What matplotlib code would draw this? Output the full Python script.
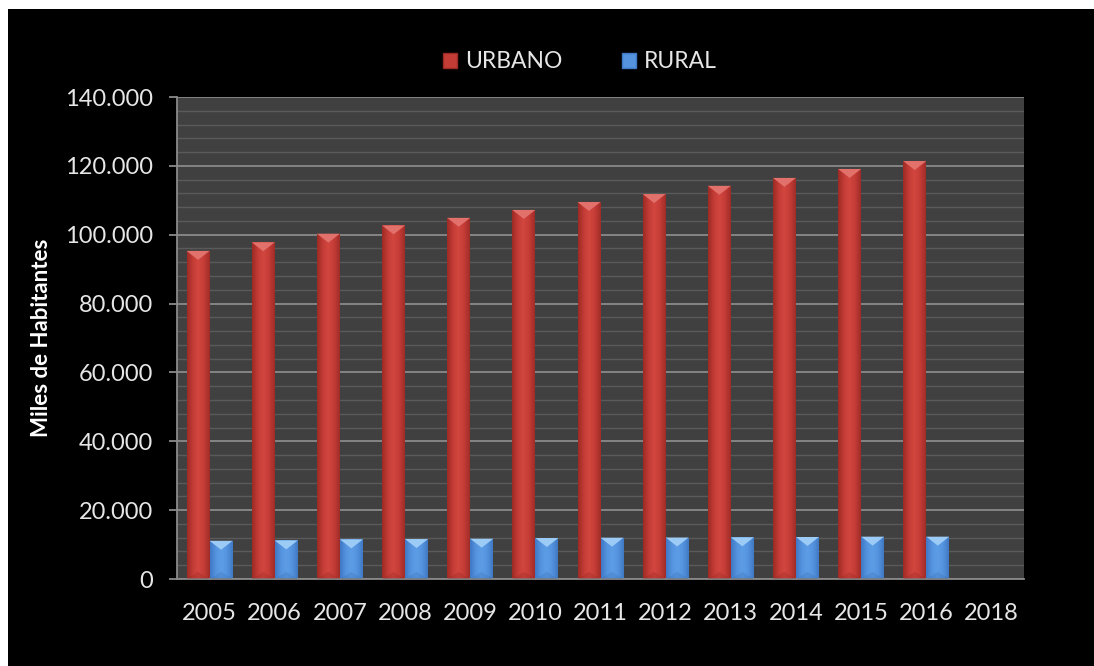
import numpy as np
import matplotlib
matplotlib.use("Agg")
import matplotlib.pyplot as plt
from matplotlib.patches import Rectangle, Polygon, Patch
from matplotlib.ticker import FuncFormatter, MultipleLocator
from matplotlib.colors import LinearSegmentedColormap

years = ["2005", "2006", "2007", "2008", "2009", "2010", "2011",
         "2012", "2013", "2014", "2015", "2016", "2018"]
urbano = [95300, 97800, 100300, 102700, 104900, 107200, 109500,
          111800, 114200, 116500, 119100, 121400, None]
rural = [11100, 11200, 11500, 11600, 11700, 11900, 12000,
         12050, 12100, 12200, 12300, 12300, None]

plt.rcParams["font.family"] = ["Lato", "DejaVu Sans"]

TXT = "#e6e6e6"
BAR_W = 0.353
BEVEL = 2600

red_cmap = LinearSegmentedColormap.from_list(
    "red", ["#9c2a25", "#c43c36", "#d2463f", "#c43c36", "#a02c27"])
blue_cmap = LinearSegmentedColormap.from_list(
    "blue", ["#3f78c4", "#5593de", "#5d9de6", "#5593de", "#4079c4"])


def draw_bar(ax, x0, h, cmap, top_color, bottom_color):
    rect = Rectangle((x0, 0), BAR_W, h, facecolor="none", edgecolor="none")
    ax.add_patch(rect)
    grad = np.linspace(0, 1, 64).reshape(1, -1)
    im = ax.imshow(grad, cmap=cmap, extent=(x0, x0 + BAR_W, 0, h),
                   aspect="auto", interpolation="bicubic", zorder=2)
    im.set_clip_path(rect)
    # top bevel
    ax.add_patch(Polygon([(x0, h), (x0 + BAR_W, h), (x0 + BAR_W / 2, h - BEVEL)],
                         closed=True, facecolor=top_color, edgecolor="none", zorder=3))
    # subtle bottom bevel
    ax.add_patch(Polygon([(x0, 0), (x0 + BAR_W, 0), (x0 + BAR_W / 2, BEVEL * 0.8)],
                         closed=True, facecolor=bottom_color, edgecolor="none",
                         alpha=0.25, zorder=3))


fig = plt.figure(figsize=(10.94, 6.66), dpi=100, facecolor="white")
bg = Rectangle((8 / 1094, 0), 1 - 8 / 1094, 1 - 9 / 666,
               transform=fig.transFigure, facecolor="black",
               edgecolor="none", zorder=-10)
fig.patches.append(bg)

ax = fig.add_axes([177 / 1094, 87 / 666, 847 / 1094, 482 / 666])
ax.set_facecolor("#404040")

for i, (u, r) in enumerate(zip(urbano, rural)):
    if u is not None:
        draw_bar(ax, i - BAR_W, u, red_cmap, "#e2716b", "#8e2420")
    if r is not None:
        draw_bar(ax, i, r, blue_cmap, "#9ccbf5", "#3566a8")

ax.set_xlim(-0.5, len(years) - 0.5)
ax.set_ylim(0, 140000)
ax.set_xticks(range(len(years)))
ax.set_xticklabels(years)

ax.yaxis.set_major_locator(MultipleLocator(20000))
ax.yaxis.set_minor_locator(MultipleLocator(4000))
ax.yaxis.set_major_formatter(FuncFormatter(lambda v, p: f"{int(v):,}".replace(",", ".")))
ax.grid(which="major", axis="y", color="#8a8a8a", linewidth=1.3, zorder=1)
ax.grid(which="minor", axis="y", color="#5a5a5a", linewidth=1.0, zorder=1)
ax.set_axisbelow(True)

for s in ["top", "right"]:
    ax.spines[s].set_visible(False)
ax.spines["left"].set_color("#8a8a8a")
ax.spines["bottom"].set_color("#8a8a8a")
ax.spines["left"].set_linewidth(1.3)
ax.spines["bottom"].set_linewidth(1.3)

ax.tick_params(axis="y", which="major", direction="out", length=6, width=1.3,
               color="#8a8a8a", labelsize=17, pad=11)
ax.tick_params(axis="y", which="minor", length=0)
ax.tick_params(axis="x", length=0, labelsize=17, pad=17)
for t in ax.get_yticklabels() + ax.get_xticklabels():
    t.set_color(TXT)

fig.text(42 / 1094, 1 - 338 / 666, "Miles de Habitantes", rotation=90,
         ha="center", va="center", color="white", fontsize=16, fontweight="bold")

handles = [Patch(facecolor="#c43c36", edgecolor="#9c2a25", label="URBANO"),
           Patch(facecolor="#5593de", edgecolor="#3f78c4", label="RURAL")]
leg = fig.legend(handles=handles, loc="center", bbox_to_anchor=(580 / 1094, 1 - 62 / 666),
                 ncol=2, frameon=False, fontsize=16.5, handlelength=0.62,
                 handleheight=0.62, handletextpad=0.35, columnspacing=2.6)
for t in leg.get_texts():
    t.set_color(TXT)

fig.savefig("out.png", dpi=100, facecolor="white")
